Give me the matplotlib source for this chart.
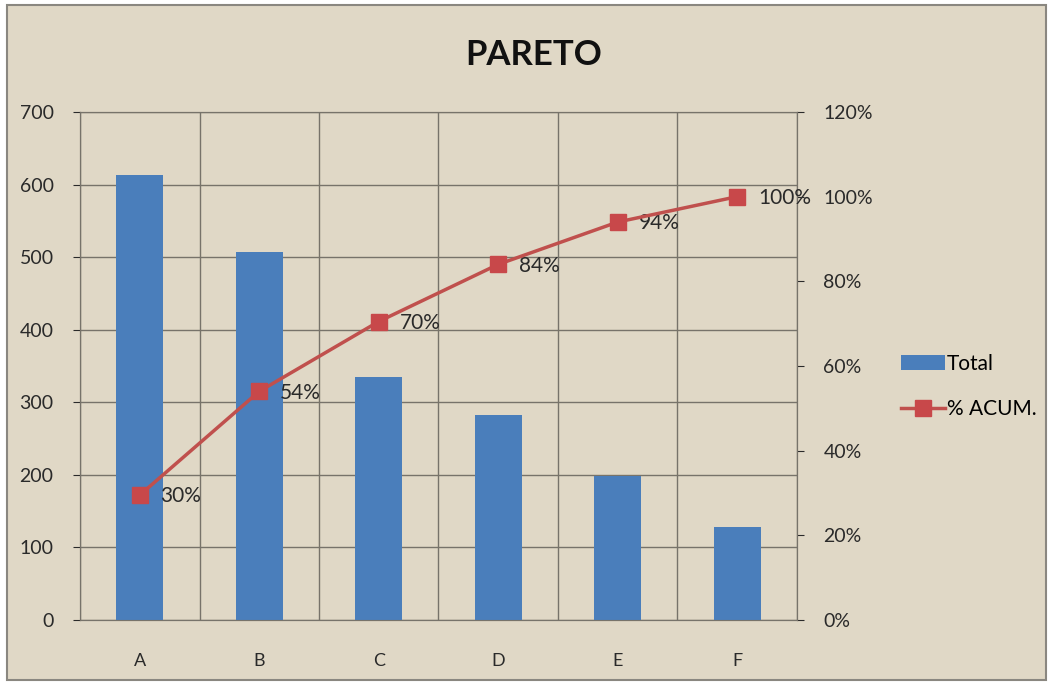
import numpy as np
import matplotlib.pyplot as plt
from matplotlib.ticker import PercentFormatter

categories = ['A', 'B', 'C', 'D', 'E', 'F']
total = [613, 507, 335, 282, 198, 128]
pct_acum = [0.295, 0.54, 0.705, 0.84, 0.94, 1.0]

plt.rcParams['font.family'] = ['Lato', 'DejaVu Sans']

bg = '#e0d8c6'
grid_c = '#77736a'
fig = plt.figure(figsize=(10.5, 6.84), dpi=100, facecolor='white')
# beige chart area with grey border
fig.patches.append(plt.Rectangle((0.007, 0.006), 0.989, 0.987, transform=fig.transFigure,
                                 facecolor=bg, edgecolor='#8a8780', linewidth=1.5, zorder=-10))

ax = fig.add_axes([0.0762, 0.0936, 0.6828, 0.7427])
ax.set_facecolor('none')

x = np.arange(len(categories))
bars = ax.bar(x, total, width=0.39, color='#4a7ebb', zorder=3, label='Total')
ax.set_xlim(-0.5, len(categories) - 0.5)
ax.set_ylim(0, 700)
ax.set_yticks(range(0, 701, 100))
ax.set_xticks(x)
ax.set_xticklabels(categories)

# grid: horizontal at each 100, vertical between categories
ax.grid(axis='y', color=grid_c, linewidth=1, zorder=1)
for b in np.arange(-0.5, len(categories), 1.0):
    ax.axvline(b, color=grid_c, linewidth=1, zorder=1)
for s in ['left', 'bottom', 'right', 'top']:
    ax.spines[s].set_color(grid_c)
ax.tick_params(axis='y', labelsize=14, colors='#2a2a2a', length=5, pad=14)
ax.tick_params(axis='x', labelsize=13, colors='#2a2a2a', length=0, pad=24)

ax2 = ax.twinx()
ax2.set_ylim(0, 1.2)
ax2.set_yticks(np.arange(0, 1.21, 0.2))
ax2.yaxis.set_major_formatter(PercentFormatter(1.0, decimals=0))
ax2.tick_params(axis='y', labelsize=14, colors='#2a2a2a', length=5, pad=14)
for s in ['left', 'bottom', 'right', 'top']:
    ax2.spines[s].set_color(grid_c)
line, = ax2.plot(x, pct_acum, color='#c0504d', linewidth=2.5, marker='s',
                 markersize=11, markerfacecolor='#c8484a', markeredgecolor='#c8484a',
                 zorder=4, label='% ACUM.')
for xi, p in zip(x, pct_acum):
    ax2.annotate(f'{round(p * 100):.0f}%', (xi, p), xytext=(15, -1),
                 textcoords='offset points', va='center', ha='left',
                 fontsize=15, color='#2a2a2a')

fig.text(0.508, 0.92, 'PARETO', ha='center', va='center', fontsize=25,
         fontweight='bold', color='#111111')

fig.legend(handles=[bars, line], loc='upper left', bbox_to_anchor=(0.84, 0.51),
           frameon=False, fontsize=15, handlelength=2.1, handletextpad=0.1,
           labelspacing=1.2)

plt.savefig('out.png', dpi=100, facecolor='white')
